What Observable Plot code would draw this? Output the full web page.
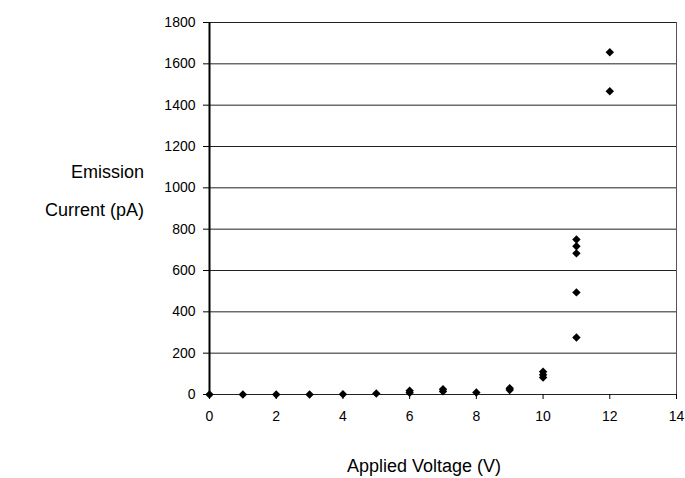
<!DOCTYPE html>
<html><head><meta charset="utf-8">
<script src="https://cdn.jsdelivr.net/npm/d3@7"></script>
<script src="https://cdn.jsdelivr.net/npm/@observablehq/plot@0.6"></script>
<style>body{margin:0;background:#fff;} svg{display:block;}</style>
</head><body>
<div id="chart"></div>
<script>
const voltage = [0,1,2,3,4,5,6,6,7,7,8,9,9,10,10,10,11,11,11,11,11,12,12];
const current = [0,0,0,0,1,5,8,18,15,25,10,22,30,82,95,110,276,494,683,717,750,1467,1656];
const xTicks = [0,2,4,6,8,10,12,14];
const yTicks = [0,200,400,600,800,1000,1200,1400,1600,1800];
const yTitle = ["Emission","Current (pA)"];
const xTitle = "Applied Voltage (V)";

const data = voltage.map((v,i)=>({v, c: current[i]}));
const font = "Liberation Sans, Arial, sans-serif";

const plot = Plot.plot({
  width: 685, height: 478,
  marginLeft: 209, marginRight: 9, marginTop: 22, marginBottom: 84,
  style: {fontFamily: font, fontSize: "14px", color: "#000", background: "#fff"},
  x: {domain: [0,14], ticks: xTicks, label: null},
  y: {domain: [0,1800], ticks: yTicks, label: null},
  marks: [
    Plot.ruleY(yTicks, {stroke: "#222", strokeWidth: 1}),
    Plot.ruleX([14], {stroke: "#555", strokeWidth: 1}),
    Plot.ruleX([0], {stroke: "#000", strokeWidth: 2}),
    Plot.axisX({ticks: xTicks, tickSize: 5, tickPadding: 12, fontSize: 14, tickFormat: d => String(d), label: null}),
    Plot.axisY({ticks: yTicks, tickSize: 6, tickPadding: 8, fontSize: 14, tickFormat: d => String(d), label: null}),
    Plot.dot(data, {x: "v", y: "c", symbol: "diamond2", r: 3.8, fill: "#000", stroke: "none"})
  ]
});

const svg = d3.select(plot);
const t = svg.append("text").attr("text-anchor","end").attr("font-family",font).attr("font-size","18px").attr("fill","#000");
t.append("tspan").attr("x",144).attr("y",178).text(yTitle[0]);
t.append("tspan").attr("x",144).attr("y",216).text(yTitle[1]);
svg.append("text").attr("text-anchor","middle").attr("font-family",font).attr("font-size","18px").attr("fill","#000")
  .attr("x",424).attr("y",472).text(xTitle);

document.getElementById("chart").appendChild(plot);
</script>
</body></html>
